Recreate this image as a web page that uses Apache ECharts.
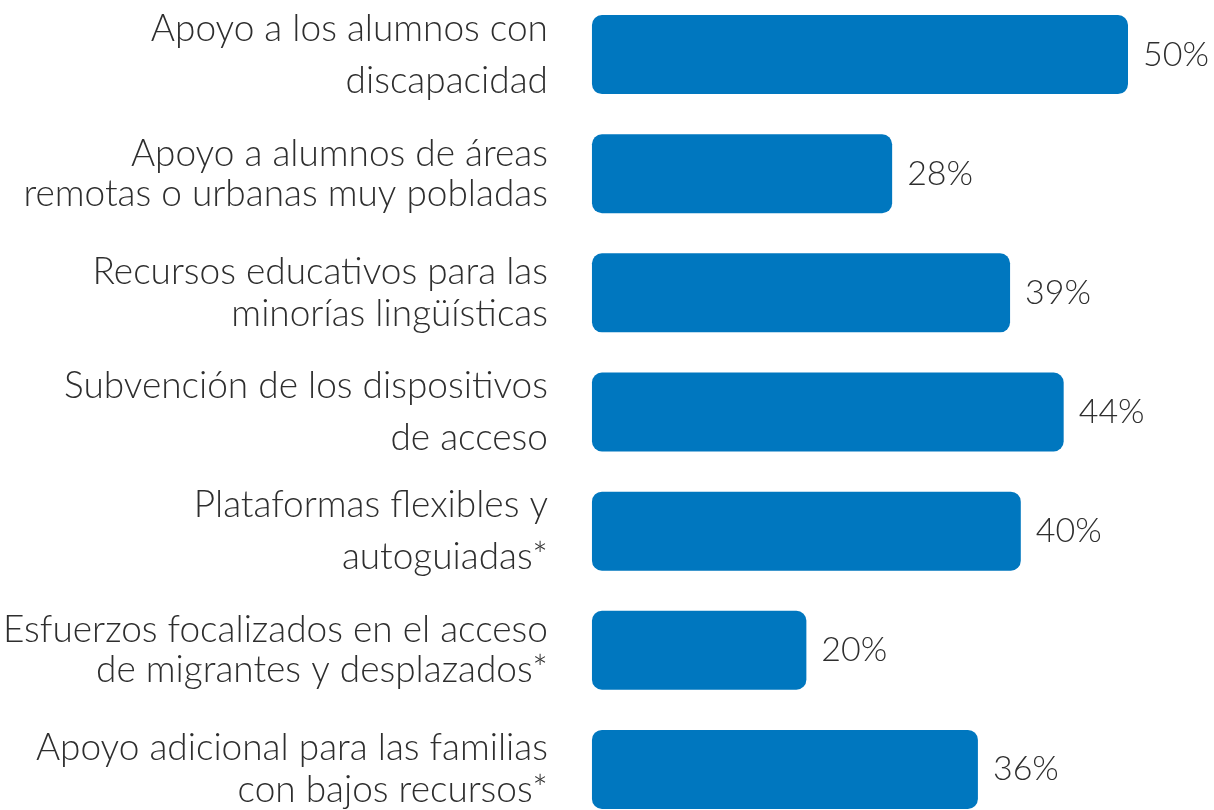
<!DOCTYPE html>
<html>
<head>
<meta charset="utf-8">
<script src="https://cdn.jsdelivr.net/npm/echarts@6/dist/echarts.min.js"></script>
<style>
  html, body { margin: 0; padding: 0; background: #fff; overflow: hidden; }
  body { width: 1214px; height: 810px; position: relative; }
  #main { position: absolute; left: 0; top: -5px; width: 1214px; height: 834px; }
</style>
</head>
<body>
<div id="main"></div>
<script>
// categorias (de arriba hacia abajo)
const categorias = [
  'Apoyo a los alumnos con\ndiscapacidad',
  'Apoyo a alumnos de áreas\nremotas o urbanas muy pobladas',
  'Recursos educativos para las\nminorías lingüísticas',
  'Subvención de los dispositivos\nde acceso',
  'Plataformas flexibles y\nautoguiadas*',
  'Esfuerzos focalizados en el acceso\nde migrantes y desplazados*',
  'Apoyo adicional para las familias\ncon bajos recursos*'
];
// porcentajes
const valores = [50, 28, 39, 44, 40, 20, 36];

// interlineado de cada etiqueta
const interlineado = [52, 40, 42, 52, 52, 40, 42];

const chartDom = document.getElementById('main');
const myChart = echarts.init(chartDom);

const option = {
  animation: false,
  grid: { left: 588, right: 86, top: 0, bottom: 0, containLabel: false },
  xAxis: {
    type: 'value',
    min: 0,
    max: 50,
    show: false
  },
  yAxis: {
    type: 'category',
    inverse: true,
    data: categorias.map((c, i) => ({
      value: c,
      textStyle: { lineHeight: interlineado[i] }
    })),
    axisLine: { show: false },
    axisTick: { show: false },
    axisLabel: {
      margin: 44,
      align: 'right',
      color: '#2e2e2e',
      fontFamily: 'Lato',
      fontWeight: 300,
      fontSize: 37,
      padding: [6, 0, 0, 0]
    }
  },
  series: [
    {
      type: 'bar',
      data: valores,
      barWidth: 79,
      itemStyle: { color: '#0077bf', borderRadius: 10 },
      label: {
        show: true,
        position: 'right',
        distance: 15,
        formatter: '{c}%',
        color: '#2e2e2e',
        fontFamily: 'Lato',
        fontWeight: 300,
        fontSize: 34,
        padding: [6, 0, 0, 0]
      }
    }
  ]
};

option && myChart.setOption(option);
</script>
</body>
</html>
